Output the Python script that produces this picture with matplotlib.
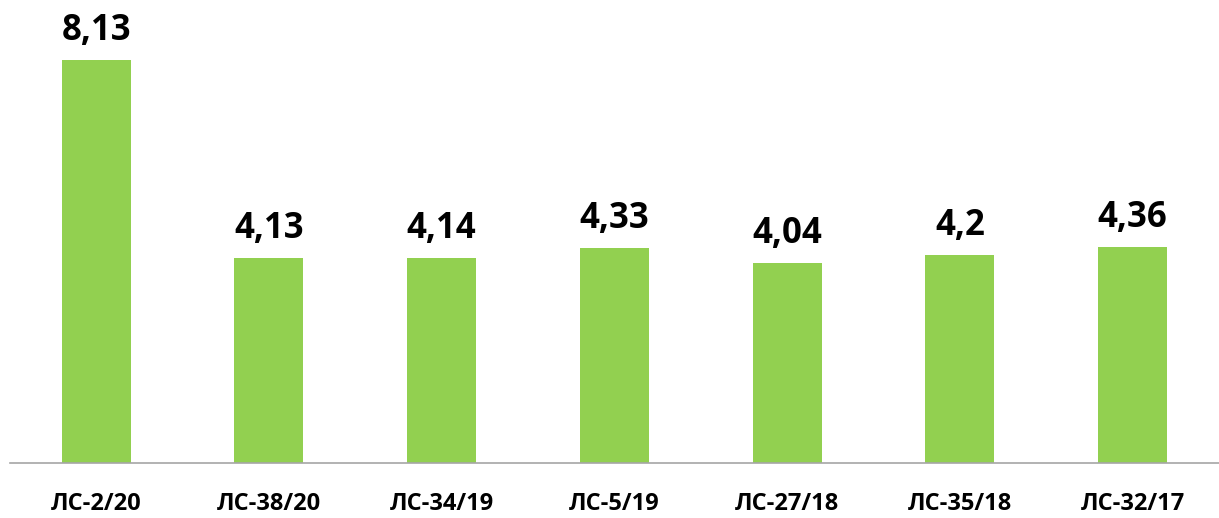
import matplotlib
matplotlib.use('Agg')
import matplotlib.pyplot as plt

categories = ['ЛС-2/20', 'ЛС-38/20', 'ЛС-34/19', 'ЛС-5/19', 'ЛС-27/18', 'ЛС-35/18', 'ЛС-32/17']
values = [8.13, 4.13, 4.14, 4.33, 4.04, 4.2, 4.36]
labels = ['8,13', '4,13', '4,14', '4,33', '4,04', '4,2', '4,36']

plt.rcParams['font.family'] = ['Open Sans', 'DejaVu Sans']

fig = plt.figure(figsize=(12.19, 5.18), dpi=100)
ax = fig.add_axes([0.008, 0.106, 0.992, 0.894])

x = range(len(categories))
ax.bar(x, values, width=0.4, color='#92D050')
for xi, v, lab in zip(x, values, labels):
    ax.text(xi, v + 0.22, lab, ha='center', va='bottom', fontsize=25, fontweight='bold')

ax.set_xlim(-0.5, 6.5)
ax.set_ylim(0, 9.33)
ax.set_xticks(list(x))
ax.set_xticklabels(categories, fontsize=17, fontweight='bold')
ax.tick_params(axis='x', length=0, pad=21)
ax.set_yticks([])
for s in ['top', 'right', 'left']:
    ax.spines[s].set_visible(False)
ax.spines['bottom'].set_color('#A6A6A6')
ax.spines['bottom'].set_linewidth(1.2)

fig.savefig('out.png', dpi=100)
